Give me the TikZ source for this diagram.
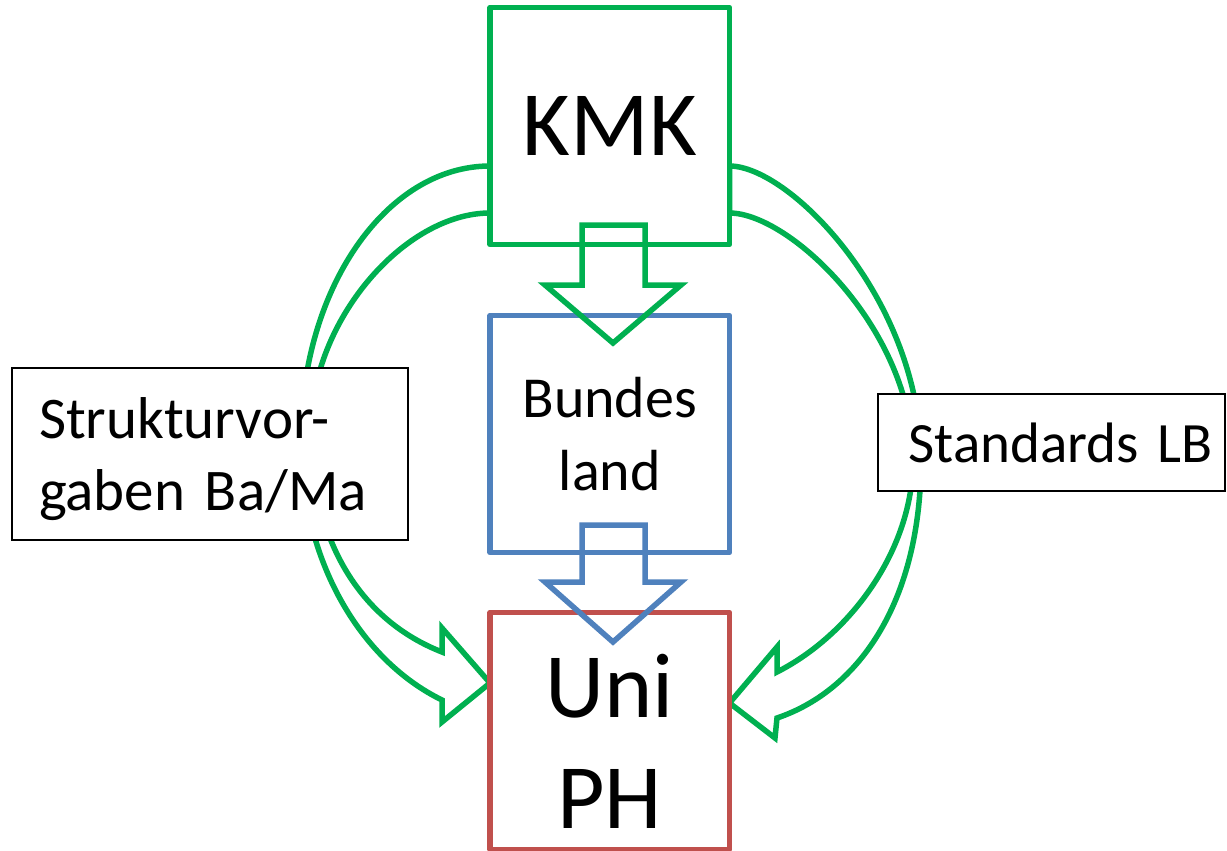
\documentclass[tikz,border=0pt]{standalone}
\usepackage{fontspec}
\setmainfont{Carlito}[WordSpace=0.7]
\usetikzlibrary{calc}
\definecolor{kmkgreen}{RGB}{0,176,80}
\definecolor{landblue}{RGB}{79,129,189}
\definecolor{unired}{RGB}{192,80,77}
\pgfdeclarelayer{back}
\pgfsetlayers{back,main}

\begin{document}
\begin{tikzpicture}[x=1pt,y=-1pt,
	box/.style={draw,line width=5.5pt,line join=round,fill=white,minimum width=239.5pt,minimum height=237pt,inner sep=0pt,outer sep=0pt,align=center},
	infobox/.style={draw,line width=2.5pt,fill=white,inner ysep=0pt,outer sep=0pt},
	band/.style={draw=kmkgreen,line width=5.5pt,line join=miter},
	block/.style={line width=5.5pt,line join=miter}]
	\useasboundingbox (0,0) rectangle (1227,851);
	% the three levels
	\node[box,draw=kmkgreen,font=\fontsize{92}{110}\selectfont] (kmk) at (609.75,126) {KMK};
	\node[box,draw=landblue,font=\fontsize{58}{73}\selectfont] (land) at (609.75,434) {Bundes\\land};
	\node[box,draw=unired,font=\fontsize{92}{111}\selectfont] (uni) at (609.75,731) {\rule{0pt}{83pt}Uni\\PH};
	% side labels
	\node[infobox,text width=342pt,inner xsep=27pt,minimum height=172pt,align=left,font=\fontsize{59}{72}\selectfont] (struk) at (210,454) {\rule{0pt}{52pt}Strukturvor-\\gaben Ba/Ma};
	\node[infobox,text width=323pt,inner xsep=12pt,minimum height=97pt,align=right,font=\fontsize{57}{60}\selectfont] (std) at (1051.5,442.5) {Standards LB};
	% curved arrows KMK -> Uni
	\begin{pgfonlayer}{back}
		\draw[band] ($(kmk.west)+(0,40)$) .. controls (386,166) and (301,289) .. (301,440)
			.. controls (301,560) and (360,660) .. (442,700) -- (442,722) -- ($(uni.west)+(0,-48)$)
			-- (442,628) -- (442,652) .. controls (360,620) and (311,540) .. (311,430)
			.. controls (311,320) and (405,213) .. ($(kmk.west)+(0,87)$) -- cycle;
		\draw[band] ($(kmk.east)+(0,40)$) .. controls (790,166) and (921,300) .. (921,460)
			.. controls (921,600) and (860,690) .. (777,718) -- (775,738) -- ($(uni.east)+(0,-28)$)
			-- (777,647) -- (777,672) .. controls (850,635) and (913,550) .. (913,460)
			.. controls (913,330) and (790,213) .. ($(kmk.east)+(0,87)$) -- cycle;
	\end{pgfonlayer}
	% block arrows
	\draw[block,kmkgreen] ($(kmk.south)+(-27.75,-19.5)$) -- ++(63,0) -- ++(0,60) -- ++(36,0)
		-- ++(-68,58) -- ++(-68,-58) -- ++(37,0) -- cycle;
	\draw[block,landblue] ($(land.south)+(-27.75,-27.5)$) -- ++(63,0) -- ++(0,57) -- ++(36,0)
		-- ++(-68,60) -- ++(-68,-60) -- ++(37,0) -- cycle;
\end{tikzpicture}
\end{document}
